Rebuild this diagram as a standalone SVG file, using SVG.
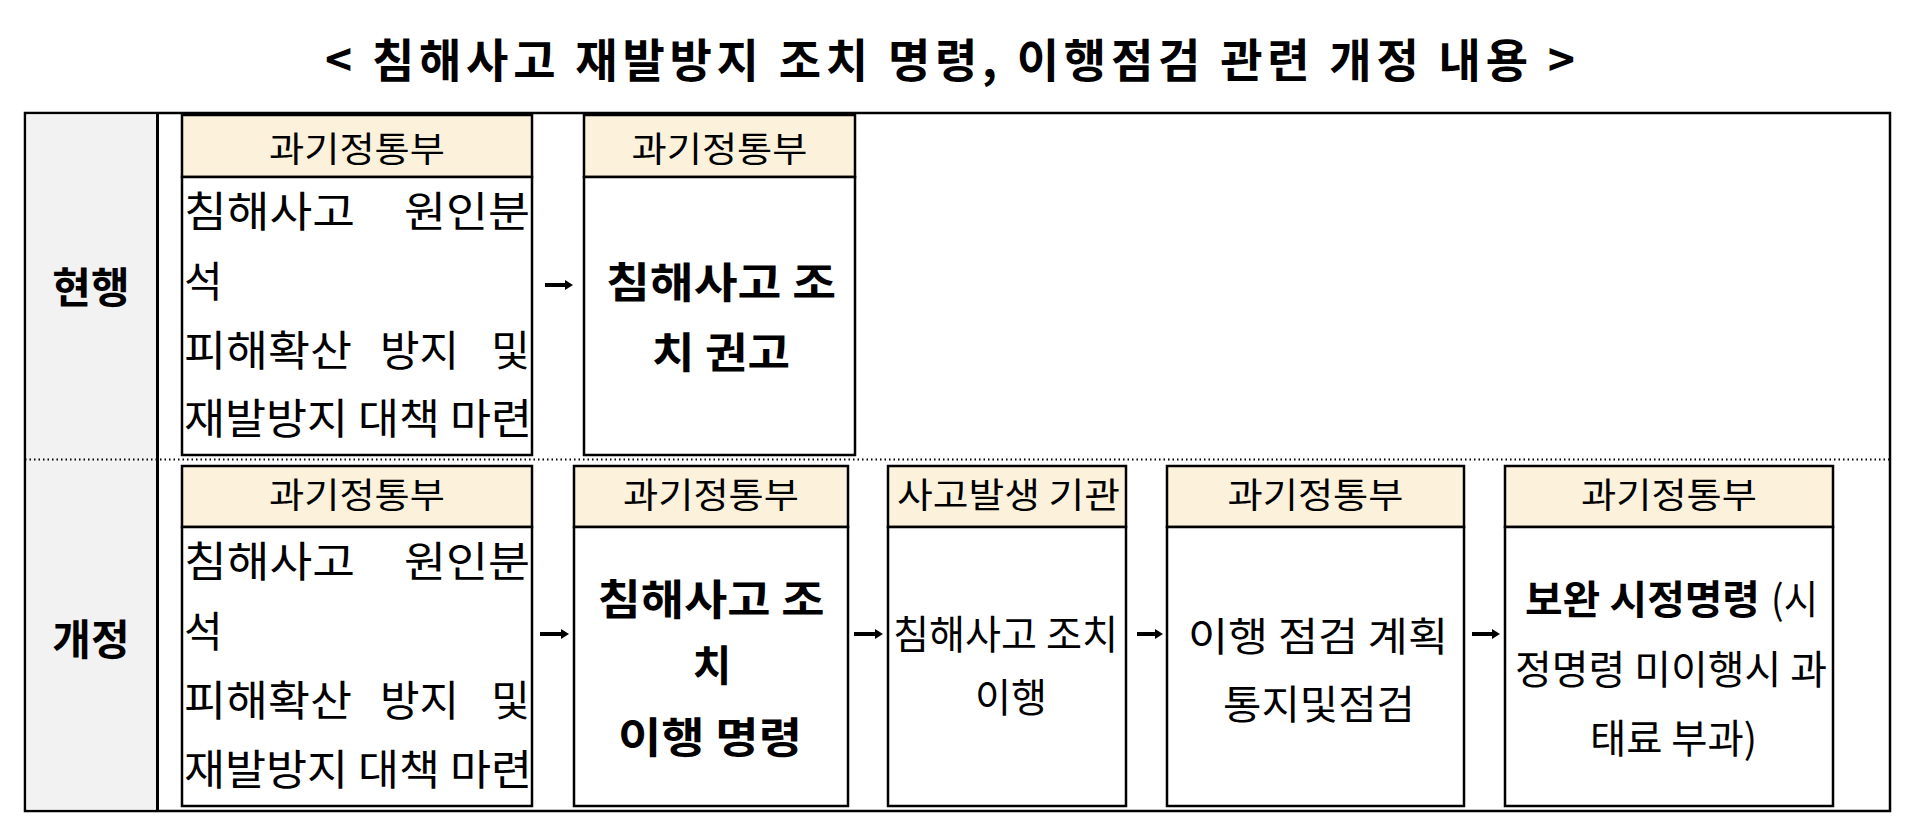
<svg xmlns="http://www.w3.org/2000/svg" width="1920" height="834" viewBox="0 0 1920 834">
<style>
text{font-family:"Noto Sans CJK KR","Noto Sans",sans-serif;fill:#000}
.title{font-size:46px;font-weight:700}
.lbl{font-size:42px;font-weight:700}
.hd{font-size:35px}
.bd{font-size:42px}
.bb{font-size:42px;font-weight:700}
.rt{font-size:40px}
.rb{font-size:40px;font-weight:700}
.hdr{fill:#FCF2DC;stroke:#000;stroke-width:2.5}
.body{fill:#fff;stroke:#000;stroke-width:2.5}
.conn{stroke:#000;stroke-width:4;fill:none}
</style>
<defs>
<marker id="ah" markerWidth="8" markerHeight="10" refX="0" refY="5" orient="auto" markerUnits="userSpaceOnUse"><path d="M0,0 L8,5 L0,10 z" fill="#000"/></marker>
</defs>
<rect width="1920" height="834" fill="#fff"/>
<g id="title">
<text class="title" x="325" y="77" textLength="1250" lengthAdjust="spacing">&lt; 침해사고 재발방지 조치 명령, 이행점검 관련 개정 내용 &gt;</text>
</g>
<g id="table">
<rect x="25" y="113" width="1865" height="698" fill="#fff" stroke="#000" stroke-width="2.5"/>
<rect x="26.5" y="114.5" width="130" height="695" fill="#F2F2F2"/>
<line x1="157.5" y1="113" x2="157.5" y2="811" stroke="#000" stroke-width="3"/>
<line x1="25" y1="459.5" x2="1890" y2="459.5" stroke="#000" stroke-width="2" stroke-dasharray="1.5 3"/>
</g>
<g id="label-current">
<text class="lbl" x="91" y="303" text-anchor="middle">현행</text>
</g>
<g id="label-revised">
<text class="lbl" x="91" y="655" text-anchor="middle">개정</text>
</g>
<g id="node-r1-analysis">
<rect class="hdr" x="182" y="115" width="350" height="62"/>
<rect class="body" x="182" y="177" width="350" height="278"/>
<text class="hd" x="357" y="162" text-anchor="middle" textLength="176" lengthAdjust="spacingAndGlyphs">과기정통부</text>
<text class="bd" x="184" y="227" textLength="171" lengthAdjust="spacingAndGlyphs">침해사고</text>
<text class="bd" x="530" y="227" text-anchor="end" textLength="126" lengthAdjust="spacingAndGlyphs">원인분</text>
<text class="bd" x="184" y="297">석</text>
<text class="bd" x="184" y="366" textLength="168" lengthAdjust="spacingAndGlyphs">피해확산</text>
<text class="bd" x="380" y="366" textLength="79" lengthAdjust="spacingAndGlyphs">방지</text>
<text class="bd" x="530" y="366" text-anchor="end">및</text>
<text class="bd" x="184" y="434" textLength="348" lengthAdjust="spacingAndGlyphs">재발방지 대책 마련</text>
</g>
<g id="node-r1-recommend">
<rect class="hdr" x="584" y="115" width="271" height="62"/>
<rect class="body" x="584" y="177" width="271" height="278"/>
<text class="hd" x="719.5" y="162" text-anchor="middle" textLength="176" lengthAdjust="spacingAndGlyphs">과기정통부</text>
<text class="bb" x="721" y="298" text-anchor="middle" textLength="230" lengthAdjust="spacingAndGlyphs">침해사고 조</text>
<text class="bb" x="721" y="368" text-anchor="middle" textLength="138" lengthAdjust="spacingAndGlyphs">치 권고</text>
</g>
<g id="node-r2-analysis">
<rect class="hdr" x="182" y="466" width="350" height="61"/>
<rect class="body" x="182" y="527" width="350" height="279"/>
<text class="hd" x="357" y="508" text-anchor="middle" textLength="176" lengthAdjust="spacingAndGlyphs">과기정통부</text>
<text class="bd" x="184" y="577" textLength="171" lengthAdjust="spacingAndGlyphs">침해사고</text>
<text class="bd" x="530" y="577" text-anchor="end" textLength="126" lengthAdjust="spacingAndGlyphs">원인분</text>
<text class="bd" x="184" y="647">석</text>
<text class="bd" x="184" y="716" textLength="168" lengthAdjust="spacingAndGlyphs">피해확산</text>
<text class="bd" x="380" y="716" textLength="79" lengthAdjust="spacingAndGlyphs">방지</text>
<text class="bd" x="530" y="716" text-anchor="end">및</text>
<text class="bd" x="184" y="785" textLength="348" lengthAdjust="spacingAndGlyphs">재발방지 대책 마련</text>
</g>
<g id="node-r2-order">
<rect class="hdr" x="574" y="466" width="274" height="61"/>
<rect class="body" x="574" y="527" width="274" height="279"/>
<text class="hd" x="711" y="508" text-anchor="middle" textLength="176" lengthAdjust="spacingAndGlyphs">과기정통부</text>
<text class="bb" x="711" y="615" text-anchor="middle" textLength="227" lengthAdjust="spacingAndGlyphs">침해사고 조</text>
<text class="bb" x="712" y="681" text-anchor="middle">치</text>
<text class="bb" x="710" y="753" text-anchor="middle" textLength="184" lengthAdjust="spacingAndGlyphs">이행 명령</text>
</g>
<g id="node-r2-execute">
<rect class="hdr" x="888" y="466" width="238" height="61"/>
<rect class="body" x="888" y="527" width="238" height="279"/>
<text class="hd" x="897" y="508" textLength="223" lengthAdjust="spacingAndGlyphs">사고발생 기관</text>
<text class="rt" x="893" y="649" textLength="225" lengthAdjust="spacingAndGlyphs">침해사고 조치</text>
<text class="rt" x="1011" y="712" text-anchor="middle" textLength="72" lengthAdjust="spacingAndGlyphs">이행</text>
</g>
<g id="node-r2-inspect">
<rect class="hdr" x="1167" y="466" width="297" height="61"/>
<rect class="body" x="1167" y="527" width="297" height="279"/>
<text class="hd" x="1315.5" y="508" text-anchor="middle" textLength="176" lengthAdjust="spacingAndGlyphs">과기정통부</text>
<text class="rt" x="1318" y="651" text-anchor="middle" textLength="260" lengthAdjust="spacingAndGlyphs">이행 점검 계획</text>
<text class="rt" x="1319" y="719" text-anchor="middle" textLength="192" lengthAdjust="spacingAndGlyphs">통지및점검</text>
</g>
<g id="node-r2-correction">
<rect class="hdr" x="1505" y="466" width="328" height="61"/>
<rect class="body" x="1505" y="527" width="328" height="279"/>
<text class="hd" x="1669" y="508" text-anchor="middle" textLength="176" lengthAdjust="spacingAndGlyphs">과기정통부</text>
<text class="rb" x="1525" y="614" textLength="235" lengthAdjust="spacingAndGlyphs">보완 시정명령</text>
<text class="rt" x="1771" y="614" textLength="47" lengthAdjust="spacingAndGlyphs">(시</text>
<text class="rt" x="1515" y="684" textLength="312" lengthAdjust="spacingAndGlyphs">정명령 미이행시 과</text>
<text class="rt" x="1590" y="753" textLength="167" lengthAdjust="spacingAndGlyphs">태료 부과)</text>
</g>
<g id="connectors">
<line class="conn" x1="545" y1="285" x2="565" y2="285" marker-end="url(#ah)"/>
<line class="conn" x1="540" y1="634" x2="561" y2="634" marker-end="url(#ah)"/>
<line class="conn" x1="854" y1="634" x2="875" y2="634" marker-end="url(#ah)"/>
<line class="conn" x1="1137" y1="634" x2="1155" y2="634" marker-end="url(#ah)"/>
<line class="conn" x1="1472" y1="634" x2="1492" y2="634" marker-end="url(#ah)"/>
</g>
</svg>
